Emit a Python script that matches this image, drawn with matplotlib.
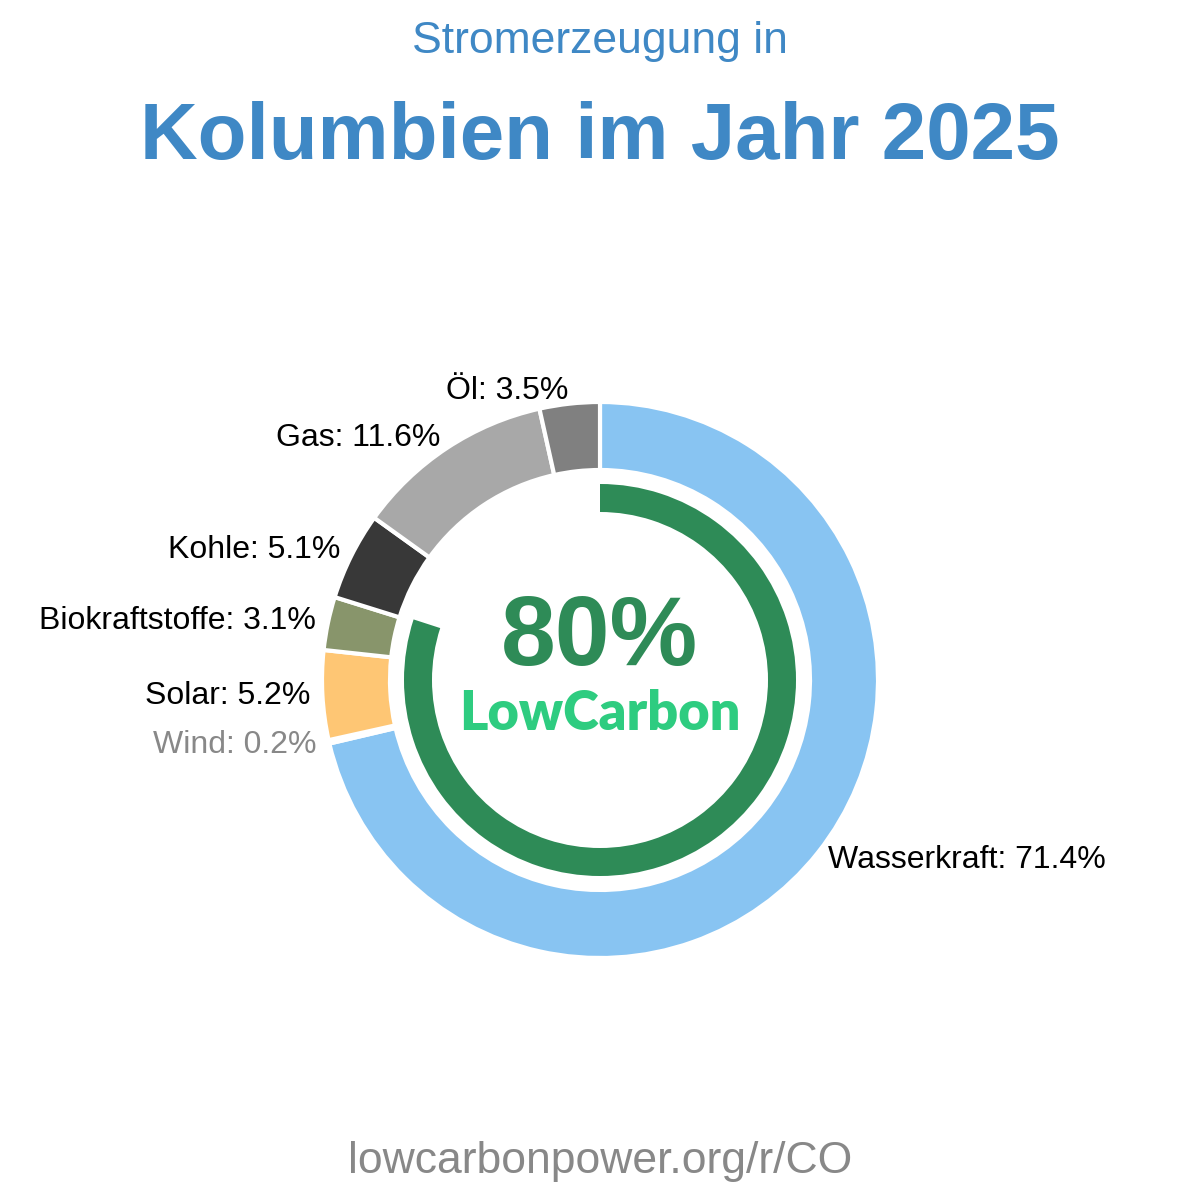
import matplotlib
matplotlib.use("Agg")
import matplotlib.pyplot as plt

# Anteile an der Stromerzeugung (%), im Uhrzeigersinn ab 12 Uhr
sources = ["Wasserkraft", "Wind", "Solar", "Biokraftstoffe", "Kohle", "Gas", "Öl"]
shares = [71.4, 0.2, 5.2, 3.1, 5.1, 11.6, 3.5]
colors = ["#88c4f2", "#6ab04c", "#fec674", "#88956b", "#383838", "#a8a8a8", "#808080"]
low_carbon = 80

TITLE_BLUE = "#3f88c5"
GREEN = "#2e8b57"

plt.rcParams["font.family"] = ["Liberation Sans", "DejaVu Sans"]

fig = plt.figure(figsize=(12, 12), dpi=100)
ax = fig.add_axes([0, 0, 1, 1])

center = (600, 520)
outer_r = 278

labels = [f"{s}: {v}%" for s, v in zip(sources, shares)]
wedges, texts = ax.pie(
    shares,
    labels=labels,
    colors=colors,
    startangle=90,
    counterclock=False,
    radius=outer_r,
    center=center,
    labeldistance=1.045,
    wedgeprops=dict(width=68, edgecolor="white", linewidth=3),
    textprops=dict(fontsize=23, color="black"),
    frame=True,
)
# Beschriftungen links vom Zentrum rechtsbündig setzen
for t in texts:
    x, _ = t.get_position()
    t.set_ha("left" if x > center[0] else "right")
texts[sources.index("Wind")].set_color("#888888")

# Innerer Ring: Anteil kohlenstoffarmer Erzeugung
ax.pie(
    [low_carbon, 100 - low_carbon],
    colors=[GREEN, "none"],
    startangle=90,
    counterclock=False,
    radius=196,
    center=center,
    wedgeprops=dict(width=28, linewidth=0),
    frame=True,
)
ax.set_xlim(0, 1200)
ax.set_ylim(0, 1200)
ax.set_aspect("equal")
ax.axis("off")

ax.text(600, 1200 - 640, f"{low_carbon}%", ha="center", va="center",
        fontsize=71, fontweight="bold", color=GREEN)
ax.text(600, 1200 - 714, "LowCarbon", ha="center", va="center",
        fontsize=39, fontweight="heavy", color="#2ecc80", family=["Lato", "DejaVu Sans"])

fig.text(0.5, 1 - 42 / 1200, "Stromerzeugung in", ha="center", va="center",
         fontsize=32, color=TITLE_BLUE)
fig.text(0.5, 1 - 138 / 1200, "Kolumbien im Jahr 2025", ha="center", va="center",
         fontsize=57.5, fontweight="bold", color=TITLE_BLUE)
fig.text(0.5, 1 - 1162 / 1200, "lowcarbonpower.org/r/CO", ha="center", va="center",
         fontsize=32, color="#888888")

fig.savefig("out.png", dpi=100, facecolor="white")
